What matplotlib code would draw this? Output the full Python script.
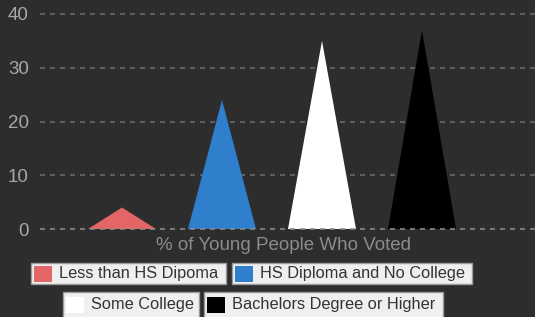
import matplotlib.pyplot as plt
from matplotlib.patches import Rectangle

categories = ['Less than HS Dipoma', 'HS Diploma and No College',
              'Some College', 'Bachelors Degree or Higher']
values = [4, 24, 35, 37]
colors = ['#e46565', '#2f7fcd', '#ffffff', '#000000']
yticks = [0, 10, 20, 30, 40]

W, H = 535, 317
bg = '#2d2d2d'
plt.rcParams['font.family'] = ['Liberation Sans', 'DejaVu Sans']

fig = plt.figure(figsize=(W / 100, H / 100), dpi=100, facecolor=bg)
ax = fig.add_axes([40 / W, 1 - 229 / H, 1 - 40 / W, (229 - 14) / H])
ax.set_facecolor(bg)

# triangles (pyramid bars)
half = 0.34
for i, (v, c) in enumerate(zip(values, colors)):
    ax.fill([i - half, i, i + half], [0, v, 0], color=c, lw=0, zorder=2)

ax.set_xlim(-0.82, 4.13)
ax.set_ylim(0, 40)
ax.set_yticks(yticks)
for t in yticks:
    ax.axhline(t, color='#8a8a8a' if t == 0 else '#6a6a6a', lw=1.2,
               ls=(0, (3, 3)), zorder=3 if t == 0 else 1, clip_on=False)
ax.set_xticks([])
ax.tick_params(axis='y', length=0, pad=8, labelsize=13.5, labelcolor='#a8a8a8')
for s in ax.spines.values():
    s.set_visible(False)

fig.text(283 / W, 1 - 246 / H, '% of Young People Who Voted', ha='center',
         va='center', fontsize=13.5, color='#8c8c8c')

# legend boxes drawn per entry
rows = [[(0, 31, 226), (1, 232, 472)], [(2, 63, 199), (3, 204, 443)]]
row_y = [(263, 284), (292, 318)]
for row, (y0, y1) in zip(rows, row_y):
    for idx, x0, x1 in row:
        fig.patches.append(Rectangle((x0 / W, 1 - y1 / H), (x1 - x0) / W, (y1 - y0) / H,
                                     transform=fig.transFigure, facecolor='#efefef',
                                     edgecolor='#9a9a9a', lw=1))
        sy = (y0 + y1) / 2
        fig.patches.append(Rectangle(((x0 + 3) / W, 1 - (sy + 8) / H), 18 / W, 16 / H,
                                     transform=fig.transFigure, facecolor=colors[idx],
                                     edgecolor='none'))
        fig.text((x0 + 28) / W, 1 - sy / H, categories[idx], ha='left', va='center',
                 fontsize=11.8, color='#333333')

fig.savefig('out.png', dpi=100, facecolor=bg)
